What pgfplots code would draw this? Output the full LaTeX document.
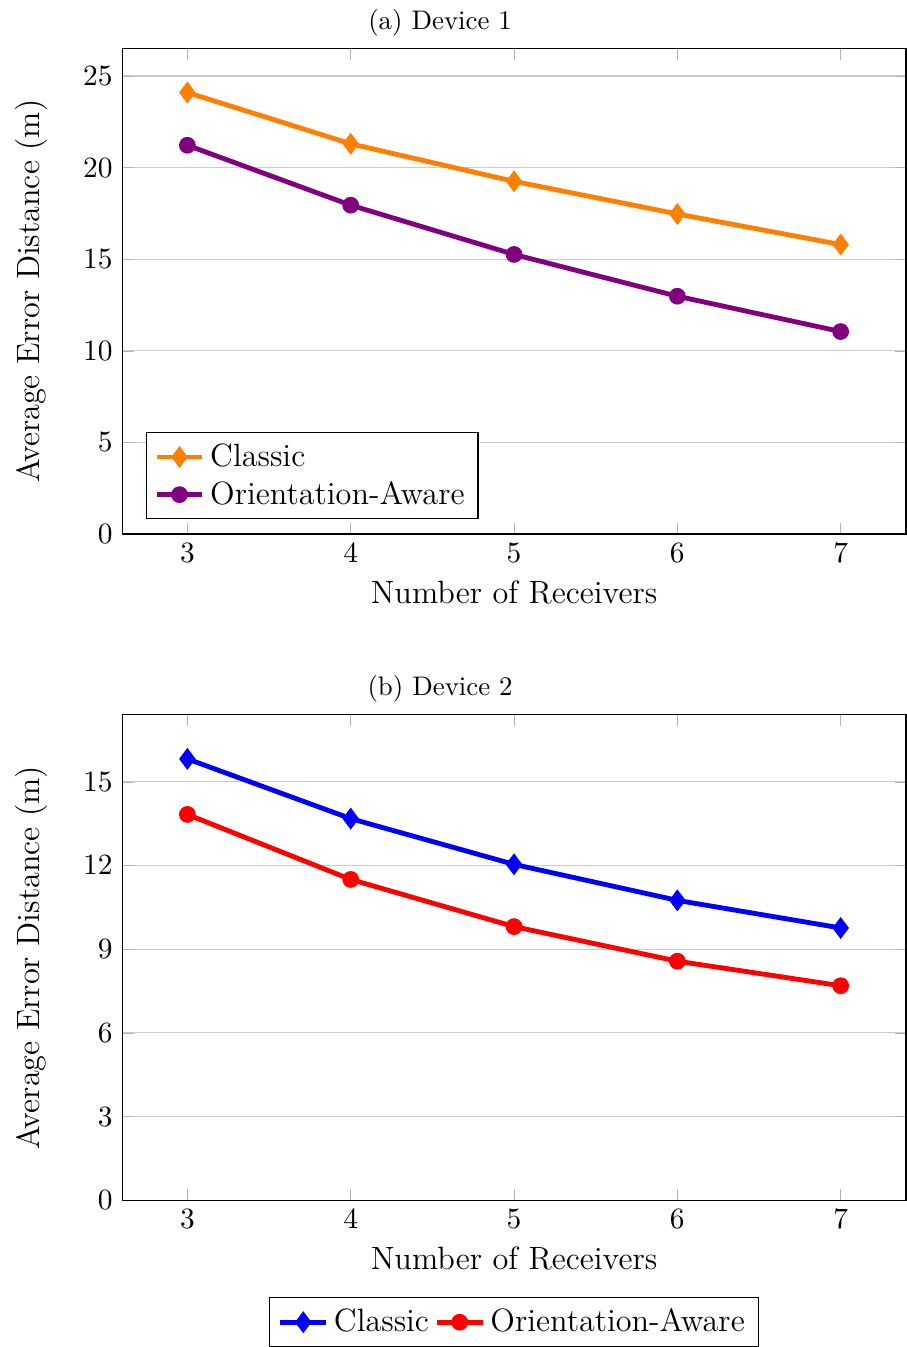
\documentclass[border=0pt]{standalone}
\usepackage{pgfplots}
\pgfplotsset{compat=1.18}
\definecolor{cpurple}{RGB}{128,0,128}
\definecolor{corange}{RGB}{255,128,0}
\begin{document}
\begin{tikzpicture}
\pgfplotsset{
  myaxis/.style={
    width=291.8pt, height=180.7pt, scale only axis,
    xmin=2.6, xmax=7.4, ymin=0,
    xtick={3,4,5,6,7},
    xlabel={Number of Receivers},
    ylabel={Average Error Distance (m)},
    label style={font=\large},
    ylabel shift=3.8pt,
    ylabel style={inner ysep=5.8pt},
    tick label style={font=\fontsize{10.5}{13}\selectfont},
    legend style={font=\large},
    ymajorgrids, grid style={gray!40},
    major tick style={gray!60},
    title style={font=\fontsize{10}{12}\selectfont, at={(0.4057,1)}, yshift=-4.8pt},
    legend cell align=left,
  }
}
\begin{axis}[myaxis, name=ax1, title={(a) Device 1}, ymax=26.5,
  ytick={0,5,10,15,20,25},
  legend pos=south west]
\addplot[corange, line width=1.8pt, mark=diamond*, mark size=2.6pt] coordinates {(3,24.1) (4,21.3) (5,19.25) (6,17.47) (7,15.8)};
\addlegendentry{Classic}
\addplot[cpurple, line width=1.8pt, mark=*, mark size=2.2pt] coordinates {(3,21.22) (4,17.95) (5,15.26) (6,12.98) (7,11.05)};
\addlegendentry{Orientation-Aware}
\end{axis}
\begin{axis}[myaxis, at={(0,-248pt)}, title={(b) Device 2}, ymax=17.4,
  ytick={0,3,6,9,12,15},
  legend style={at={(0.5,-0.2)}, anchor=north, legend columns=2}]
\addplot[blue, line width=1.8pt, mark=diamond*, mark size=2.6pt] coordinates {(3,15.82) (4,13.68) (5,12.04) (6,10.75) (7,9.76)};
\addlegendentry{Classic}
\addplot[red, line width=1.8pt, mark=*, mark size=2.2pt] coordinates {(3,13.83) (4,11.5) (5,9.81) (6,8.57) (7,7.69)};
\addlegendentry{Orientation-Aware}
\end{axis}
\end{tikzpicture}
\end{document}
